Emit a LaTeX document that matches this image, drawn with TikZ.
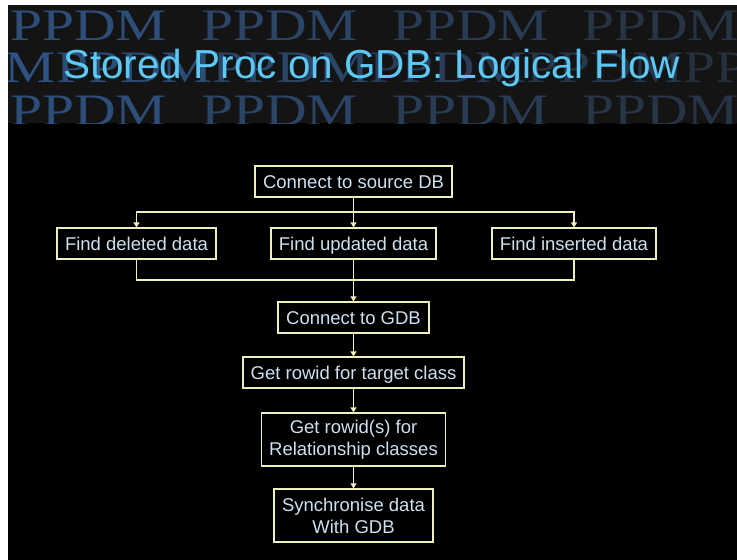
\documentclass[tikz,border=0pt]{standalone}
\usepackage{fontspec}
\setmainfont{Liberation Sans}
\newfontfamily\serifwm{Liberation Serif}
\usetikzlibrary{arrows.meta}
\definecolor{banner}{RGB}{20,20,20}
\definecolor{wmblue}{RGB}{46,82,128}
\definecolor{wmdim}{RGB}{36,40,46}
\definecolor{titleblue}{RGB}{92,200,245}
\definecolor{flowline}{RGB}{240,240,190}
\definecolor{boxtext}{RGB}{205,225,240}
\begin{document}
\begin{tikzpicture}[x=1pt,y=-1pt,
  flowbox/.style={draw=flowline, line width=1.2pt, text=boxtext,
    font=\fontsize{18.5}{22}\selectfont, align=center, inner sep=0pt},
  oneline/.style={flowbox, text height=14.5pt, text depth=0.5pt, minimum height=31pt},
  wm/.style={anchor=base west, inner sep=0pt,
    font=\serifwm\fontsize{45}{45}\selectfont, xscale=1.28},
  flow/.style={draw=flowline, line width=1.2pt},
  flowarrow/.style={flow, -{Triangle[width=6pt,length=5pt]}}]

% page, side strips and title banner
\useasboundingbox (0,0) rectangle (737,560);
\fill[black] (0,0) rectangle (737,560);
\fill[white] (0,0) rectangle (737,5);
\fill[white] (0,0) rectangle (8,560);
\fill[banner] (8,5) rectangle (737,123);

% watermark lettering behind the title, dimming towards the right
\begin{scope}
  \clip (8,5) rectangle (737,123);
  \foreach \x [count=\i, evaluate=\x as \p using {int(max(20,100-(\x+78)/737*80))}]
      in {10,201,392,582} {
    \node[wm, text=wmblue!\p!wmdim] (wma\i) at (\x,40) {PPDM};
    \node[wm, text=wmblue!\p!wmdim] (wmc\i) at (\x,125) {PPDM};
  }
  \foreach \x [count=\i, evaluate=\x as \p using {int(max(20,100-(\x+78)/737*80))}]
      in {-101,55.8,212.6,369.4,526.2,683} {
    \node[wm, text=wmblue!\p!wmdim] (wmb\i) at (\x,82) {PPDM};
  }
\end{scope}

\node[anchor=base, inner sep=0pt, text=titleblue,
  font=\fontsize{40.5}{48}\selectfont] (title) at (371.5,78)
  {Stored Proc on GDB: Logical Flow};

% flow boxes
\node[oneline, minimum width=197pt] (src) at (353.5,181.5) {Connect to source DB};
\node[oneline, minimum width=159pt] (del) at (136.5,243.5) {Find deleted data};
\node[oneline, minimum width=165pt] (upd) at (353.5,243.5) {Find updated data};
\node[oneline, minimum width=164pt] (ins) at (574,243.5) {Find inserted data};
\node[oneline, minimum width=151pt] (gdb) at (353.5,317.5) {Connect to GDB};
\node[oneline, minimum width=221pt] (tgt) at (353.5,372.5) {Get rowid for target class};
\node[flowbox, minimum width=184pt, minimum height=53pt] (rel) at (353.5,439.5) {Get rowid(s) for\\Relationship classes};
\node[flowbox, minimum width=159pt, minimum height=53pt] (syn) at (353.5,515.5) {Synchronise data\\With GDB};

% connectors
\coordinate (split) at (353.5,212);
\coordinate (merge) at (353.5,280);
\draw[flow] (src) -- (split);
\draw[flowarrow] (split) -- (upd);
\draw[flowarrow] (split) -| (del);
\draw[flowarrow] (split) -| (ins);
\draw[flow] (del) |- (merge);
\draw[flow] (ins) |- (merge);
\draw[flowarrow] (upd) -- (gdb);
\draw[flowarrow] (gdb) -- (tgt);
\draw[flowarrow] (tgt) -- (rel);
\draw[flowarrow] (rel) -- (syn);
\end{tikzpicture}
\end{document}
